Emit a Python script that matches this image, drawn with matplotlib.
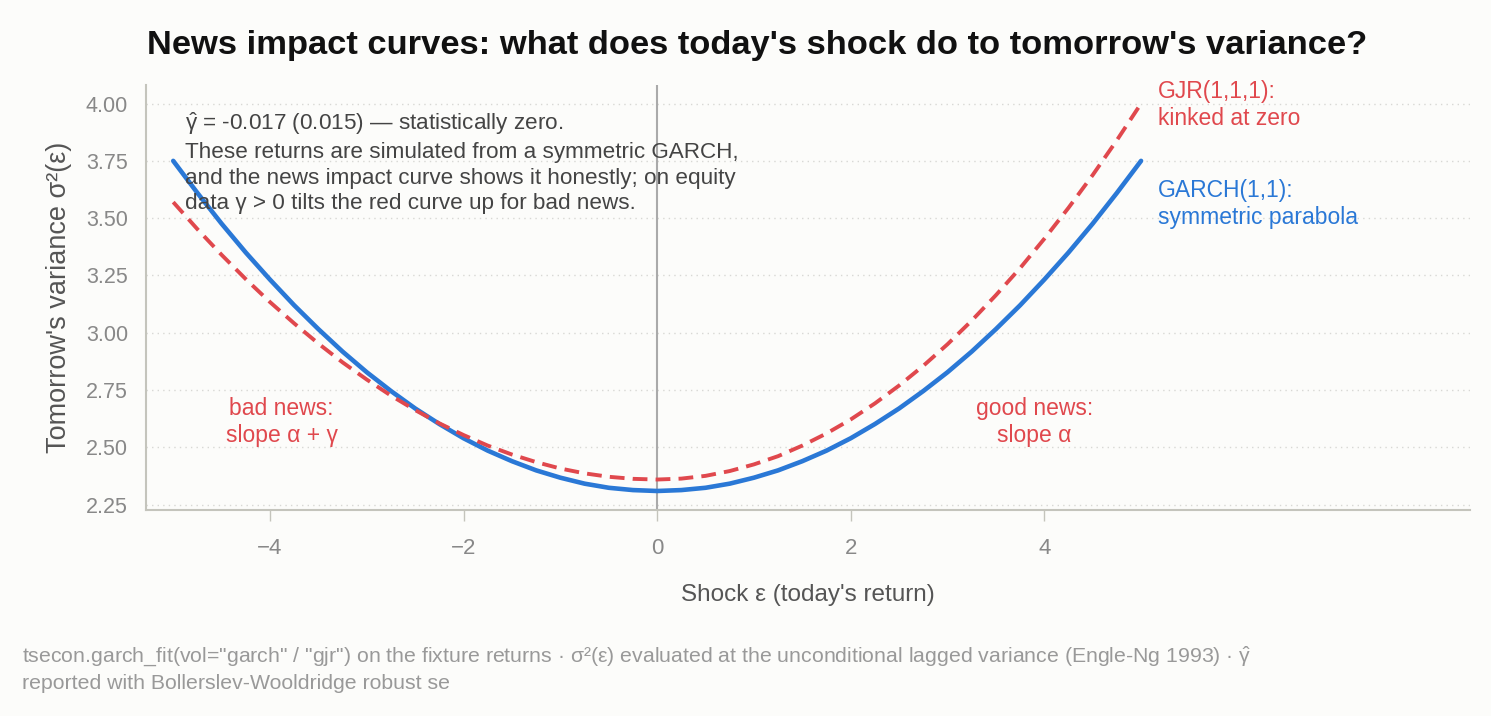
import numpy as np
import matplotlib.pyplot as plt

plt.rcParams['font.family'] = ['Liberation Sans', 'DejaVu Sans']
plt.rcParams['mathtext.fontset'] = 'custom'
plt.rcParams['mathtext.rm'] = 'Liberation Sans'
plt.rcParams['mathtext.it'] = 'Liberation Sans'

# === Data ===
shock = [-5.0, -4.75, -4.5, -4.25, -4.0, -3.75, -3.5, -3.25, -3.0, -2.75, -2.5,
         -2.25, -2.0, -1.75, -1.5, -1.25, -1.0, -0.75, -0.5, -0.25, 0.0,
         0.25, 0.5, 0.75, 1.0, 1.25, 1.5, 1.75, 2.0, 2.25, 2.5,
         2.75, 3.0, 3.25, 3.5, 3.75, 4.0, 4.25, 4.5, 4.75, 5.0]
garch_var = [3.750, 3.610, 3.476, 3.350, 3.232, 3.120, 3.016, 2.918, 2.828, 2.746, 2.670,
             2.602, 2.540, 2.486, 2.440, 2.400, 2.368, 2.342, 2.324, 2.314, 2.310,
             2.314, 2.324, 2.342, 2.368, 2.400, 2.440, 2.486, 2.540, 2.602, 2.670,
             2.746, 2.828, 2.918, 3.016, 3.120, 3.232, 3.350, 3.476, 3.610, 3.750]
gjr_var = [3.570, 3.452, 3.340, 3.234, 3.134, 3.041, 2.953, 2.871, 2.796, 2.726, 2.663,
           2.605, 2.554, 2.508, 2.469, 2.436, 2.408, 2.387, 2.372, 2.363, 2.360,
           2.364, 2.376, 2.397, 2.426, 2.462, 2.508, 2.561, 2.622, 2.692, 2.770,
           2.856, 2.950, 3.053, 3.164, 3.282, 3.410, 3.545, 3.688, 3.840, 4.000]
x_ticks = [-4, -2, 0, 2, 4]
y_ticks = [2.25, 2.50, 2.75, 3.00, 3.25, 3.50, 3.75, 4.00]

BLUE = '#2a78d6'
RED = '#e0484d'
BG = '#fcfcfa'

fig = plt.figure(figsize=(14.91, 7.16), dpi=100, facecolor=BG)
ax = fig.add_axes([0.098, 0.288, 0.888, 0.593], facecolor=BG)

ax.axvline(0, color='#aaaaaa', linewidth=1.5, zorder=1)
ax.plot(shock, garch_var, color=BLUE, linewidth=3.3, solid_capstyle='round',
        solid_joinstyle='round', zorder=3)
ax.plot(shock, gjr_var, color=RED, linewidth=2.8, linestyle=(0, (3.8, 2.1)), zorder=4)

ax.set_xlim(-5.28, 8.4)
ax.set_ylim(2.228, 4.08)
ax.set_xticks(x_ticks)
ax.set_yticks(y_ticks)
ax.set_yticklabels([f'{v:.2f}' for v in y_ticks])
ax.grid(True, axis='y', linestyle=(0, (1, 3)), color='#d8d8d4', linewidth=1.0)
ax.set_axisbelow(True)

for side in ['top', 'right']:
    ax.spines[side].set_visible(False)
for side in ['left', 'bottom']:
    ax.spines[side].set_color('#c4c4bc')
    ax.spines[side].set_linewidth(1.5)
ax.tick_params(axis='x', length=8, width=1.0, color='#c4c4bc', labelcolor='#888888',
               labelsize=16, pad=12)
ax.tick_params(axis='y', length=0, labelcolor='#888888', labelsize=15.5, pad=13)

ax.set_xlabel("Shock ε (today's return)", fontsize=17.5, color='#555555', labelpad=18)
ax.set_ylabel("Tomorrow's variance σ²(ε)", fontsize=19.5, color='#555555', labelpad=10)

# curve labels
ax.text(5.17, 3.995, "GJR(1,1,1):\nkinked at zero", color=RED, fontsize=16.5,
        ha='left', va='center', linespacing=1.22)
ax.text(5.17, 3.56, "GARCH(1,1):\nsymmetric parabola", color=BLUE, fontsize=16.5,
        ha='left', va='center', linespacing=1.22)

# slope annotations
ax.text(-3.88, 2.612, "bad news:\nslope α + γ", color=RED, fontsize=16.5,
        ha='center', va='center', linespacing=1.22)
ax.text(3.9, 2.612, "good news:\nslope α", color=RED, fontsize=16.5,
        ha='center', va='center', linespacing=1.22)

ax.text(-4.88, 3.97,
        r"$\hat{\mathrm{\gamma}}$ = -0.017 (0.015) — statistically zero." "\n"
        "These returns are simulated from a symmetric GARCH,\n"
        "and the news impact curve shows it honestly; on equity\n"
        "data γ > 0 tilts the red curve up for bad news.",
        color='#444444', fontsize=16.2, ha='left', va='top', linespacing=1.29)

fig.text(0.508, 0.937, "News impact curves: what does today's shock do to tomorrow's variance?",
         fontsize=24.8, fontweight='bold', color='#111111', ha='center', va='center')

fig.text(0.015, 0.066,
         'tsecon.garch_fit(vol="garch" / "gjr") on the fixture returns · σ²(ε) evaluated at the '
         r'unconditional lagged variance (Engle-Ng 1993) · $\hat{\mathrm{\gamma}}$' '\n'
         'reported with Bollerslev-Wooldridge robust se',
         fontsize=15.3, color='#999999', ha='left', va='center', linespacing=1.3)

fig.savefig('out.png', dpi=100, facecolor=BG)
